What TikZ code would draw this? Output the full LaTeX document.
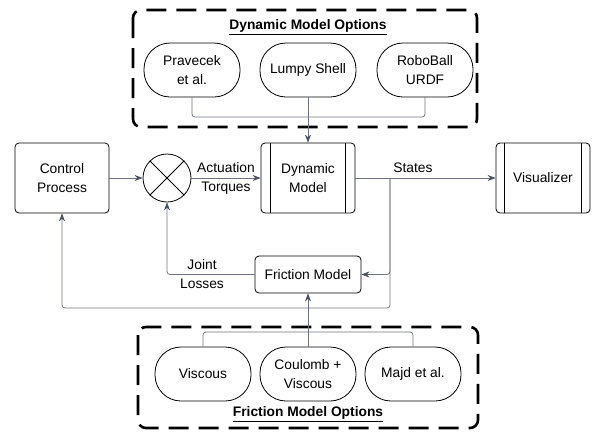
\documentclass[tikz,border=0pt]{standalone}
\usepackage{fontspec}
\setmainfont{Liberation Sans}
\usetikzlibrary{arrows.meta}

\definecolor{wire}{HTML}{6E747E}
\definecolor{tipc}{HTML}{4A5262}

\begin{document}
\begin{tikzpicture}[x=1pt, y=-1pt,
    font=\fontsize{13.8}{19}\selectfont,
    block/.style={draw, thick, rounded corners=4pt, align=center, inner sep=0pt},
    option/.style={draw, thick, rounded corners=26pt, minimum width=96pt, minimum height=54pt, align=center, inner sep=0pt},
    group/.style={draw, line width=2.6pt, dash pattern=on 20pt off 10pt, rounded corners=8pt},
    wire/.style={draw=wire, line width=0.8pt, rounded corners=3pt},
    arr/.style={wire, -{Stealth[length=8pt, width=6pt, color=tipc]}}]
    \useasboundingbox (0,0) rectangle (592,432);

    % option groups
    \draw[group] (133,10) rectangle (477,127);
    \node (dynopt) at (308,27) {\underline{\textbf{Dynamic Model Options}}};
    \node[option] (prav) at (192,70) {Pravecek\\et al.};
    \node[option] (lumpy) at (308,70) {Lumpy Shell};
    \node[option] (robo) at (425,70) {RoboBall\\URDF};

    \draw[group] (138,327) rectangle (478,428);
    \node (fricopt) at (308,414) {\underline{\textbf{Friction Model Options}}};
    \node[option] (visc) at (203,374) {Viscous};
    \node[option] (coul) at (308,374) {Coulomb +\\Viscous};
    \node[option] (majd) at (413,374) {Majd et al.};

    % main loop
    \node[block, minimum width=94pt, minimum height=70pt] (ctrl) at (62,178) {Control\\Process};
    \node[draw, thick, circle, minimum size=48pt] (sum) at (167,178) {};
    \draw[thick] (sum.north west) -- (sum.south east);
    \draw[thick] (sum.north east) -- (sum.south west);
    \node[block, minimum width=94pt, minimum height=70pt] (dyn) at (308,178) {Dynamic\\Model};
    \draw[thick] ([xshift=10pt]dyn.north west) -- ([xshift=10pt]dyn.south west);
    \draw[thick] ([xshift=-10pt]dyn.north east) -- ([xshift=-10pt]dyn.south east);
    \node[block, minimum width=94pt, minimum height=70pt] (vis) at (543,178) {Visualizer};
    \draw[thick] ([xshift=9pt]vis.north west) -- ([xshift=9pt]vis.south west);
    \draw[thick] ([xshift=-9pt]vis.north east) -- ([xshift=-9pt]vis.south east);
    \node[block, minimum width=106pt, minimum height=37pt] (fricm) at (308,274.5) {Friction Model};

    \coordinate (dbus) at (308,117);
    \coordinate (fbus) at (308,332);
    \coordinate (split) at (390,178);
    \coordinate (back) at (390,308);

    % connectors
    \draw[wire] (prav.south) |- (dbus) -| (robo.south);
    \draw[arr] (lumpy.south) -- (dyn.north);
    \draw[wire] (visc.north) |- (fbus) -| (majd.north);
    \draw[arr] (coul.north) -- (fricm.south);

    \draw[arr] (ctrl.east) -- (sum.west);
    \draw[arr] (sum.east) -- node[align=center, text=black] {Actuation\\Torques} (dyn.west);
    \draw[arr] (dyn.east) -- (vis.west);
    \node (states) at (413,168) {States};
    \draw[arr] (split) |- (fricm.east);
    \draw[arr] (split) -- (back) -| (ctrl.south);
    \draw[arr] (fricm.west) -| node[pos=0.3, align=center] {Joint\\Losses} (sum.south);
\end{tikzpicture}
\end{document}
